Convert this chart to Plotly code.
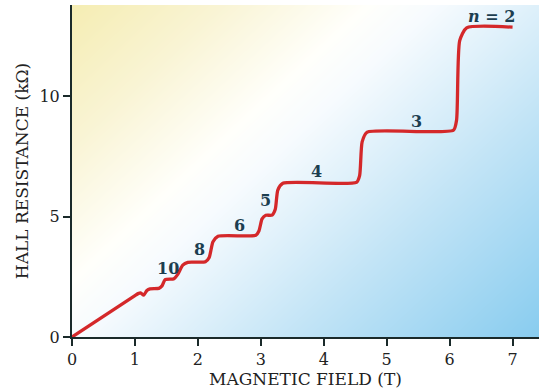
import plotly.graph_objects as go

# ---- data ----
field_T = [0.0, 1.0, 1.05, 1.09, 1.14, 1.19, 1.24, 1.38, 1.43, 1.48, 1.62, 1.68, 1.76, 1.84,
           2.12, 2.18, 2.24, 2.32, 2.92, 2.97, 3.02, 3.08, 3.18, 3.23, 3.27, 3.35,
           4.52, 4.57, 4.61, 4.69, 6.06, 6.11, 6.16, 6.27, 7.0]
hall_kohm = [0.0, 1.72, 1.8, 1.83, 1.74, 1.93, 2.0, 2.02, 2.12, 2.38, 2.42, 2.6, 2.98, 3.1,
             3.12, 3.3, 3.95, 4.18, 4.22, 4.4, 4.9, 5.05, 5.06, 5.3, 6.1, 6.38,
             6.42, 6.7, 8.1, 8.5, 8.58, 9.0, 12.3, 12.83, 12.86]

label_text = ["10", "8", "6", "5", "4", "3", "<i>n</i> = 2"]
label_B = [1.53, 2.03, 2.66, 3.08, 3.88, 5.48, 6.66]
label_R = [2.86, 3.62, 4.62, 5.66, 6.86, 8.96, 13.3]

x_ticks = [0, 1, 2, 3, 4, 5, 6, 7]
y_ticks = [0, 5, 10]

X_MAX = 7.42
Y_MAX = 13.78

fig = go.Figure()

# background diagonal gradient (styling only): corner values, bilinear smoothing
fig.add_trace(go.Heatmap(
    x=[0, X_MAX], y=[0, Y_MAX],
    z=[[0.557, 1.057], [0.175, 0.675]],
    zsmooth="best", showscale=False, hoverinfo="skip",
    zmin=0.175, zmax=1.057,
    colorscale=[[0.0, "#f5edb3"], [0.18, "#f9f4d4"], [0.36, "#fffffb"],
                [0.44, "#f7fbfe"], [0.7, "#c2e4f6"], [1.0, "#88ccef"]],
))

fig.add_trace(go.Scatter(
    x=field_T, y=hall_kohm, mode="lines",
    line=dict(color="#d4282a", width=3.3, shape="spline", smoothing=0.6),
    hoverinfo="skip", showlegend=False,
))

for t, bx, ry in zip(label_text, label_B, label_R):
    fig.add_annotation(x=bx, y=ry, text=f"<b>{t}</b>", showarrow=False,
                       font=dict(family="DejaVu Serif", size=16, color="#1c3e50"))

axis_font = dict(family="DejaVu Serif", size=16, color="#222222")
title_font = dict(family="DejaVu Serif", size=17, color="#222222")
fig.update_xaxes(
    range=[0, X_MAX], tickvals=x_ticks, ticktext=[str(v) for v in x_ticks],
    showgrid=False, zeroline=False, showline=True, linecolor="#1a2a2a", linewidth=2,
    ticks="outside", ticklen=7, tickwidth=2, tickcolor="#1a2a2a",
    tickfont=axis_font, automargin=False,
    title=dict(text="MAGNETIC FIELD (T)", font=title_font, standoff=2),
)
fig.update_yaxes(
    range=[0, Y_MAX], tickvals=y_ticks, ticktext=[str(v) for v in y_ticks],
    showgrid=False, zeroline=False, showline=True, linecolor="#1a2a2a", linewidth=2,
    ticks="outside", ticklen=7, tickwidth=2, tickcolor="#1a2a2a",
    tickfont=axis_font, automargin=False,
    title=dict(text="HALL RESISTANCE (kΩ)", font=title_font, standoff=6),
)
fig.update_layout(
    width=539, height=391,
    margin=dict(l=72, r=0, t=5, b=54),
    paper_bgcolor="white", plot_bgcolor="white",
    showlegend=False,
)

fig.write_html("out.html",
               config={"displayModeBar": False},
               post_script="document.body.style.margin='0px';document.body.style.overflow='hidden';")
